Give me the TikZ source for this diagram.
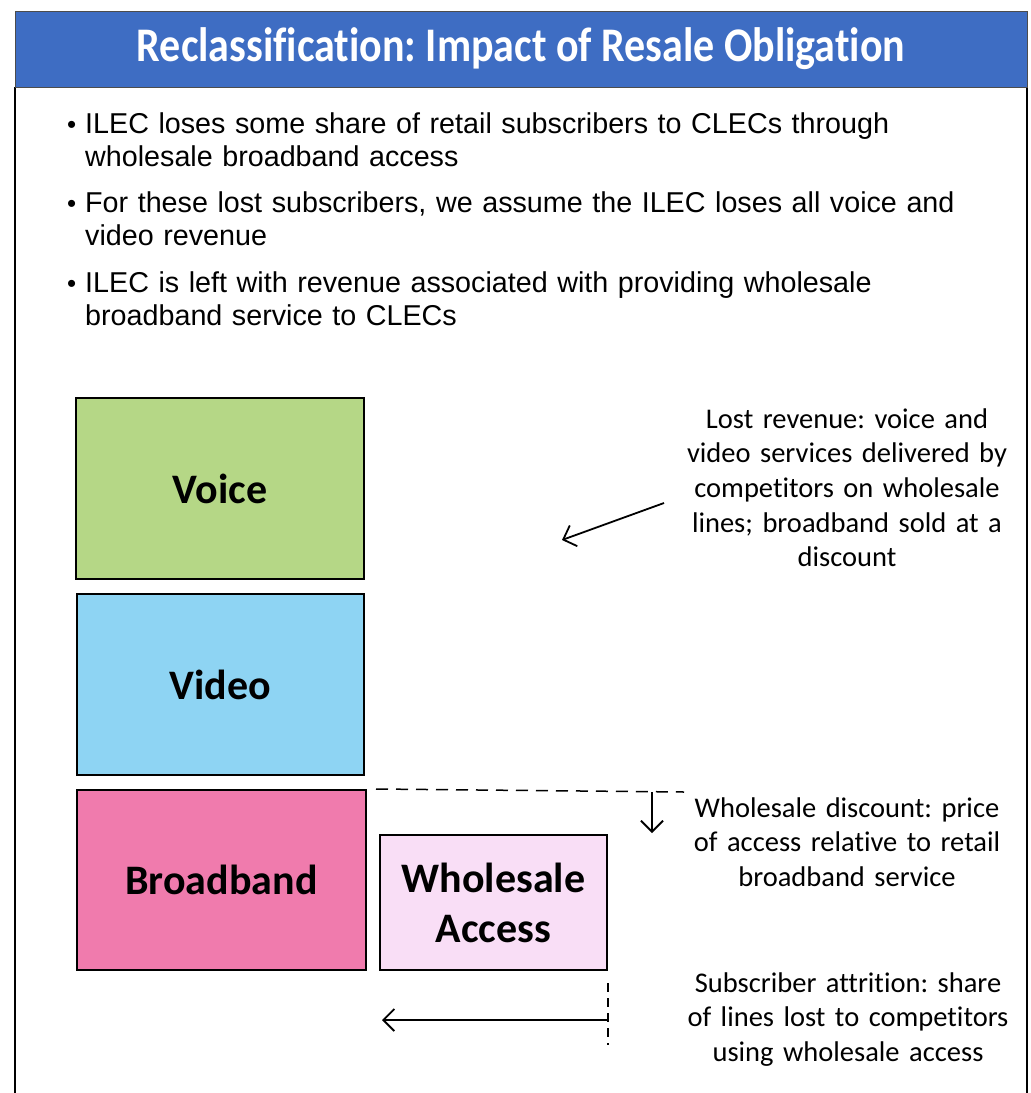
\documentclass[tikz,border=0pt]{standalone}
\usepackage{fontspec}
\usepackage{graphicx}
\setmainfont{Carlito}[Ligatures=NoCommon]
\newfontfamily\arialfont{Liberation Sans}
\usetikzlibrary{arrows.meta}
\frenchspacing

\definecolor{headblue}{HTML}{3E6DC3}
\definecolor{voicegreen}{HTML}{B5D786}
\definecolor{videoblue}{HTML}{8ED4F3}
\definecolor{bbpink}{HTML}{F07BAD}
\definecolor{wapink}{HTML}{F9DEF6}

\newcommand{\bul}{\llap{\fontsize{26}{26}\selectfont\textbullet\hspace{9pt}}}

\begin{document}
\begin{tikzpicture}[x=1pt,y=-1pt]
	\tikzstyle{Box} = [rectangle, draw=black, line width=2pt, inner sep=0pt, text centered, font=\fontsize{42}{50}\selectfont\bfseries]
	\tikzstyle{Bullet} = [anchor=base west, inner sep=0pt, text width=900pt, align=left, font=\arialfont\fontsize{28.7}{33}\selectfont]
	\tikzstyle{Note} = [anchor=base, inner sep=0pt, text width=340pt, align=center, font=\fontsize{28.5}{34.7}\selectfont]
	\tikzstyle{arrow} = [line width=1.8pt, -{Straight Barb[length=11pt, width=22pt]}]
	\tikzstyle{guide} = [line width=1.5pt, dash pattern=on 12pt off 8pt]

	\useasboundingbox (0,0) rectangle (1031,1093);

	% frame and header band
	\draw [line width=1.5pt] (15,87) -- (15,1093);
	\draw [line width=1.5pt] (1027,87) -- (1027,1093);
	\node (head) [rectangle, draw=black!70, line width=1pt, fill=headblue, minimum width=1012pt, minimum height=76pt, inner sep=0pt] at (521,49) {};
	\node (title) [text=white, font=\fontsize{42}{42}\selectfont\bfseries] at (head.center) {\scalebox{1}[1.15]{Reclassification: Impact of Resale Obligation}};

	% bullet points
	\node (b1) [Bullet] at (85,133) {\bul ILEC loses some share of retail subscribers to CLECs through\\wholesale broadband access};
	\node (b2) [Bullet] at (85,212) {\bul For these lost subscribers, we assume the ILEC loses all voice and\\video revenue};
	\node (b3) [Bullet] at (85,292) {\bul ILEC is left with revenue associated with providing wholesale\\broadband service to CLECs};

	% revenue blocks
	\node (voice) [Box, fill=voicegreen, minimum width=288pt, minimum height=181pt] at (220,488.5) {Voice};
	\node (video) [Box, fill=videoblue, minimum width=287pt, minimum height=181pt] at (220.5,684.5) {Video};
	\node (bb) [Box, fill=bbpink, minimum width=289pt, minimum height=180pt] at (221.5,880) {Broadband};
	\node (wa) [Box, fill=wapink, minimum width=227pt, minimum height=135pt, align=center] at (493.5,902.5) {Wholesale\\Access};

	% notes on the right
	\node (lost) [Note] at (847,428) {Lost revenue: voice and\\video services delivered by\\competitors on wholesale\\lines; broadband sold at a\\discount};
	\node (disc) [Note] at (847,817) {Wholesale discount: price\\of access relative to retail\\broadband service};
	\node (attr) [Note] at (848,992) {Subscriber attrition: share\\of lines lost to competitors\\using wholesale access};

	% lost revenue pointer
	\coordinate (lostA) at (664,503);
	\coordinate (lostB) at (562,540);
	\draw [arrow] (lostA) -- (lostB);

	% wholesale discount: retail level and drop
	\coordinate (retail) at (684,792);
	\draw [guide] (bb.north east -| 376,792) -- (retail);
	\coordinate (dropA) at (652,792);
	\coordinate (dropB) at (652,833);
	\draw [arrow] (dropA) -- (dropB);

	% subscriber attrition
	\coordinate (cutA) at (wa.east |- 0,983);
	\coordinate (cutB) at (wa.east |- 0,1045);
	\draw [guide, line width=1.2pt, dash pattern=on 9pt off 6pt] (cutA) -- (cutB);
	\coordinate (lossA) at (wa.east |- 0,1020);
	\coordinate (lossB) at (382,1020);
	\draw [arrow] (lossA) -- (lossB);
\end{tikzpicture}
\end{document}
